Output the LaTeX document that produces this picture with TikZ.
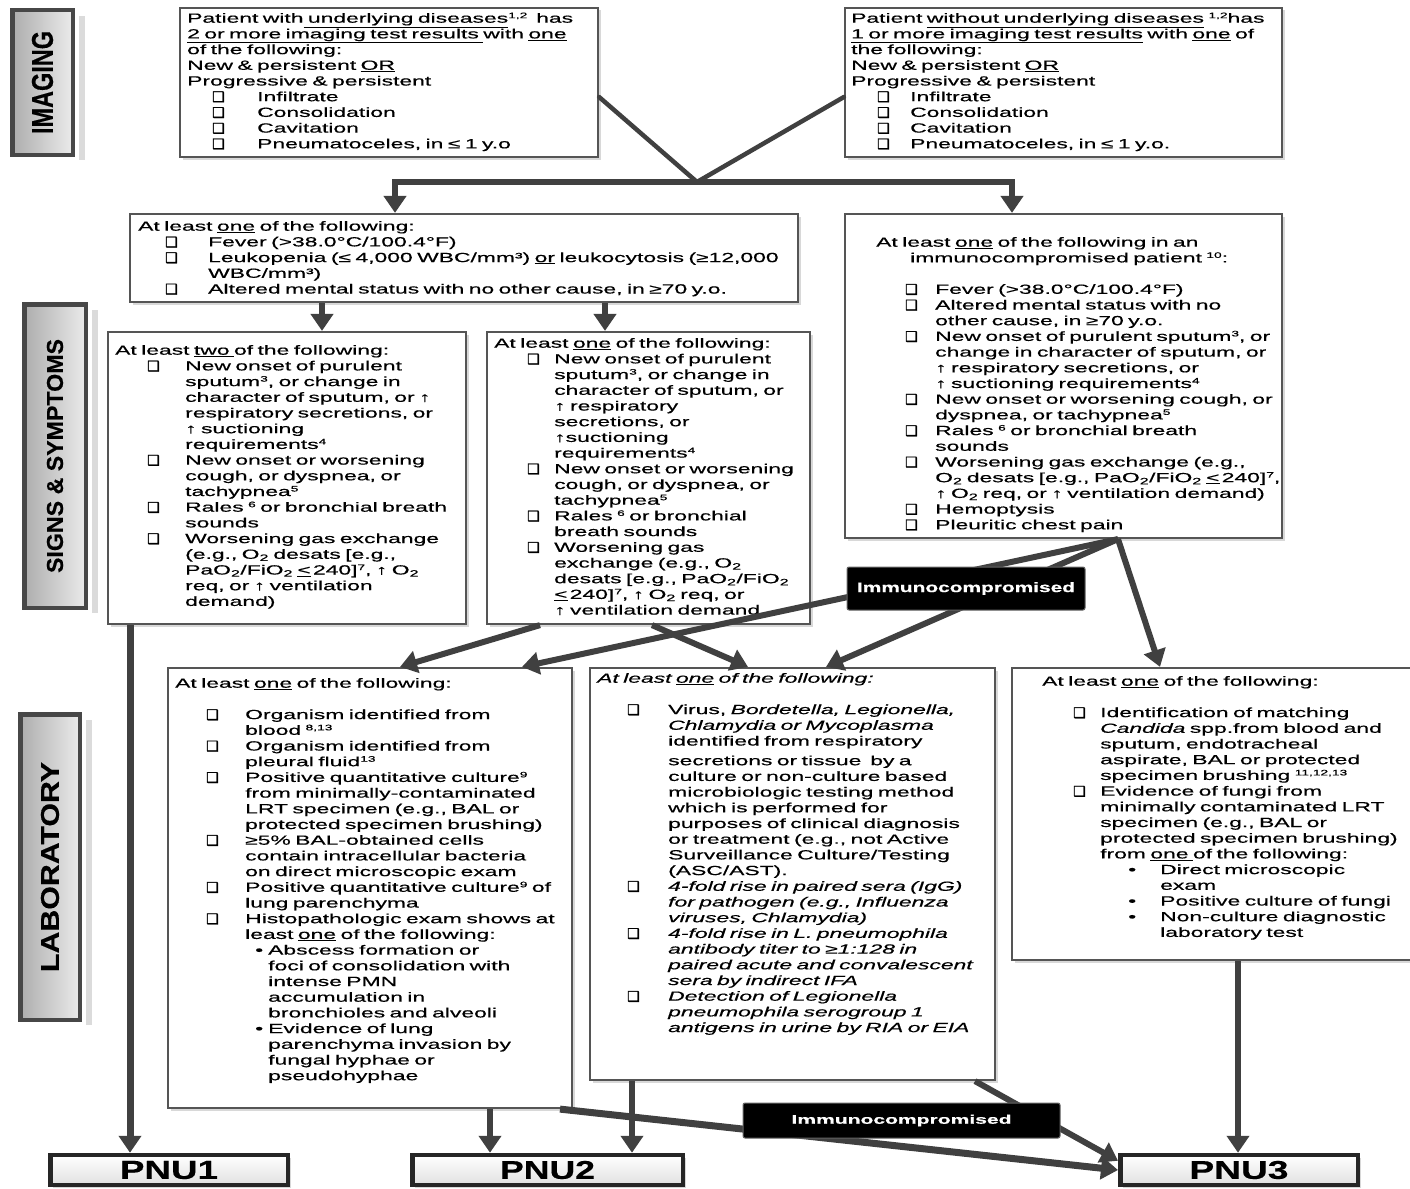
\documentclass[tikz,border=0pt]{standalone}
\usepackage{fontspec}
\setmainfont{Liberation Sans}[FakeStretch=1.72,FakeBold=0.5]
\newfontfamily\djv{DejaVu Sans}[FakeBold=1.6]
\usepackage{graphicx}
\usetikzlibrary{arrows.meta,shadows,calc}
\definecolor{lc}{HTML}{404040}
\definecolor{bc}{HTML}{555555}
\newcommand\cbx{\raisebox{-0.5pt}{\djv\fontsize{14}{14}\selectfont\symbol{"2751}}}
\newcommand\itm[3]{\hspace*{#1pt}\makebox[#2pt][l]{\cbx}#3}
\newcommand\btm[3]{\hspace*{#1pt}\makebox[#2pt][l]{•}#3}
\newcommand\ctn[2]{\hspace*{#1pt}#2}
\newcommand\sps[1]{\raisebox{4.5pt}{\fontsize{8}{8}\selectfont #1}}
\newcommand\two{\textsubscript{2}}
\begin{document}
\begin{tikzpicture}[x=1pt,y=-1pt,
 box/.style={draw=bc, line width=2.2pt, fill=white, inner sep=0pt, drop shadow={shadow xshift=2.5pt, shadow yshift=-2.5pt, fill=black!30}},
 sidebox/.style={draw=black!72, line width=4.5pt, left color=black!32, right color=black!8, inner sep=0pt},
 pnubox/.style={draw=black!85, line width=4.5pt, top color=white, bottom color=black!12, inner sep=0pt, drop shadow={shadow xshift=3pt, shadow yshift=-3pt, fill=black!30}},
 immlab/.style={fill=black, draw=black!60, line width=1pt, rounded corners=2pt, text=white, inner sep=0pt},
 txt/.style={anchor=north west, inner sep=0pt, text width=700pt, align=left, font=\fontsize{13.3}{15.7}\selectfont, execute at begin node={\rule{0pt}{11pt}}},
 arr/.style={draw=lc, line width=6pt, -{Triangle[length=17pt,width=22pt]}},
 vline/.style={draw=lc, line width=4.5pt, line cap=round},
]
\useasboundingbox (0,0) rectangle (1410,1188);
\clip (0,0) rectangle (1410,1188);

% side labels
\fill[black!14] (79,16) rectangle (85,160);
\fill[black!14] (92,310) rectangle (98,613);
\fill[black!14] (86,720) rectangle (92,1025);
\node[sidebox, minimum width=60.5pt, minimum height=144.5pt] (simg) at (42.5,82.5) {};
\node[rotate=90] (simgt) at (simg.center) {\resizebox{103pt}{21pt}{\bfseries IMAGING}};
\node[sidebox, minimum width=61.5pt, minimum height=303.5pt] (sss) at (55,456) {};
\node[rotate=90] (ssst) at (sss.center) {\resizebox{234pt}{16pt}{\bfseries SIGNS \& SYMPTOMS}};
\node[sidebox, minimum width=59.5pt, minimum height=305.5pt] (slab) at (50,867) {};
\node[rotate=90] (slabt) at (slab.center) {\resizebox{210pt}{18pt}{\bfseries LABORATORY}};

% boxes
\node[box, minimum width=418pt, minimum height=149pt] (img1) at (389,82.5) {};
\node[box, minimum width=437pt, minimum height=149pt] (img2) at (1063.5,82.5) {};
\node[box, minimum width=668pt, minimum height=88pt] (ss1) at (464,258) {};
\node[box, minimum width=437pt, minimum height=324pt] (ss2) at (1063.5,376) {};
\node[box, minimum width=358pt, minimum height=292pt] (ss3) at (287,478) {};
\node[box, minimum width=323pt, minimum height=292pt] (ss4) at (648.5,478) {};
\node[box, minimum width=404pt, minimum height=440pt] (lab1) at (370,888) {};
\node[box, minimum width=405pt, minimum height=412pt] (lab2) at (792.5,874) {};
\node[box, minimum width=406pt, minimum height=292pt] (lab3) at (1215,814) {};

% texts
\node[txt] (img1t) at (187,11.5) {Patient with\underline{ underlying diseases}\sps{1,2}\ \ has\\
\underline{2 or more imaging test results }with \underline{one}\\
of the following:\\
New \& persistent \underline{OR}\\
Progressive \& persistent\\
\itm{25}{45}{Infiltrate}\\
\itm{25}{45}{Consolidation}\\
\itm{25}{45}{Cavitation}\\
\itm{25}{45}{Pneumatoceles, in ≤ 1 y.o}};

\node[txt] (img2t) at (851,11.5) {Patient \underline{without underlying diseases} \sps{1,2}has\\
\underline{1 or more imaging test results} with \underline{one} of\\
the following:\\
New \& persistent \underline{OR}\\
Progressive \& persistent\\
\itm{26}{33}{Infiltrate}\\
\itm{26}{33}{Consolidation}\\
\itm{26}{33}{Cavitation}\\
\itm{26}{33}{Pneumatoceles, in ≤ 1 y.o.}};

\node[txt] (ss1t) at (138,219.5) {At least \underline{one} of the following:\\
\itm{27}{43}{Fever (>38.0°C/100.4°F)}\\
\itm{27}{43}{Leukopenia (≤ 4,000 WBC/mm³) \underline{or} leukocytosis (≥12,000}\\
\ctn{70}{WBC/mm³)}\\
\itm{27}{43}{Altered mental status with no other cause, in ≥70 y.o.}};

\node[txt] (ss2t) at (876,235.5) {At least \underline{one} of the following in an\\
\ctn{34}{immunocompromised patient \sps{10}:}\\[15.7pt]
\itm{29}{30}{Fever (>38.0°C/100.4°F)}\\
\itm{29}{30}{Altered mental status with no}\\
\ctn{59}{other cause, in ≥70 y.o.}\\
\itm{29}{30}{New onset of purulent sputum\sps{3}, or}\\
\ctn{59}{change in character of sputum, or}\\
\ctn{59}{↑ respiratory secretions, or}\\
\ctn{59}{↑ suctioning requirements\sps{4}}\\
\itm{29}{30}{New onset or worsening cough, or}\\
\ctn{59}{dyspnea, or tachypnea\sps{5}}\\
\itm{29}{30}{Rales \sps{6} or bronchial breath}\\
\ctn{59}{sounds}\\
\itm{29}{30}{Worsening gas exchange (e.g.,}\\
\ctn{59}{O\two{} desats [e.g., PaO\two/FiO\two{} \underline{<}\,240]\sps{7},}\\
\ctn{59}{↑ O\two{} req, or ↑ ventilation demand)}\\
\itm{29}{30}{Hemoptysis}\\
\itm{29}{30}{Pleuritic chest pain}};

\node[txt] (ss3t) at (115,343.5) {At least \underline{two }of the following:\\
\itm{32}{38}{New onset of purulent}\\
\ctn{70}{sputum\sps{3}, or change in}\\
\ctn{70}{character of sputum, or ↑}\\
\ctn{70}{respiratory secretions, or}\\
\ctn{70}{↑ suctioning}\\
\ctn{70}{requirements\sps{4}}\\
\itm{32}{38}{New onset or worsening}\\
\ctn{70}{cough, or dyspnea, or}\\
\ctn{70}{tachypnea\sps{5}}\\
\itm{32}{38}{Rales \sps{6} or bronchial breath}\\
\ctn{70}{sounds}\\
\itm{32}{38}{Worsening gas exchange}\\
\ctn{70}{(e.g., O\two{} desats [e.g.,}\\
\ctn{70}{PaO\two/FiO\two{} \underline{<}\,240]\sps{7}, ↑ O\two}\\
\ctn{70}{req, or ↑ ventilation}\\
\ctn{70}{demand)}};

\node[txt] (ss4t) at (494,336.5) {At least \underline{one} of the following:\\
\itm{33}{27}{New onset of purulent}\\
\ctn{60}{sputum\sps{3}, or change in}\\
\ctn{60}{character of sputum, or}\\
\ctn{60}{↑ respiratory}\\
\ctn{60}{secretions, or}\\
\ctn{60}{↑suctioning}\\
\ctn{60}{requirements\sps{4}}\\
\itm{33}{27}{New onset or worsening}\\
\ctn{60}{cough, or dyspnea, or}\\
\ctn{60}{tachypnea\sps{5}}\\
\itm{33}{27}{Rales \sps{6} or bronchial}\\
\ctn{60}{breath sounds}\\
\itm{33}{27}{Worsening gas}\\
\ctn{60}{exchange (e.g., O\two}\\
\ctn{60}{desats [e.g., PaO\two/FiO\two}\\
\ctn{60}{\underline{<}\,240]\sps{7}, ↑ O\two{} req, or}\\
\ctn{60}{↑ ventilation demand}};

\node[txt] (lab1t) at (175,676.5) {At least \underline{one} of the following:\\[15.7pt]
\itm{31}{39}{Organism identified from}\\
\ctn{70}{blood \sps{8,13}}\\
\itm{31}{39}{Organism identified from}\\
\ctn{70}{pleural fluid\sps{13}}\\
\itm{31}{39}{Positive quantitative culture\sps{9}}\\
\ctn{70}{from minimally-contaminated}\\
\ctn{70}{LRT specimen (e.g., BAL or}\\
\ctn{70}{protected specimen brushing)}\\
\itm{31}{39}{≥5\% BAL-obtained cells}\\
\ctn{70}{contain intracellular bacteria}\\
\ctn{70}{on direct microscopic exam}\\
\itm{31}{39}{Positive quantitative culture\sps{9} of}\\
\ctn{70}{lung parenchyma}\\
\itm{31}{39}{Histopathologic exam shows at}\\
\ctn{70}{least \underline{one} of the following:}\\
\btm{80}{13}{Abscess formation or}\\
\ctn{93}{foci of consolidation with}\\
\ctn{93}{intense PMN}\\
\ctn{93}{accumulation in}\\
\ctn{93}{bronchioles and alveoli}\\
\btm{80}{13}{Evidence of lung}\\
\ctn{93}{parenchyma invasion by}\\
\ctn{93}{fungal hyphae or}\\
\ctn{93}{pseudohyphae}};

\node[txt] (lab2t) at (597,671.5) {\textit{At least \underline{one} of the following:}\\[15.7pt]
\itm{30}{41}{Virus, \textit{Bordetella, Legionella,}}\\
\ctn{71}{\textit{Chlamydia or Mycoplasma}}\\
\ctn{71}{identified from respiratory}\\[4pt]
\ctn{71}{secretions or tissue\ \ by a}\\
\ctn{71}{culture or non-culture based}\\
\ctn{71}{microbiologic testing method}\\
\ctn{71}{which is performed for}\\
\ctn{71}{purposes of clinical diagnosis}\\
\ctn{71}{or treatment (e.g., not Active}\\
\ctn{71}{Surveillance Culture/Testing}\\
\ctn{71}{(ASC/AST).}\\
\itm{30}{41}{\textit{4-fold rise in paired sera (IgG)}}\\
\ctn{71}{\textit{for pathogen (e.g., Influenza}}\\
\ctn{71}{\textit{viruses, Chlamydia)}}\\
\itm{30}{41}{\textit{4-fold rise in L. pneumophila}}\\
\ctn{71}{\textit{antibody titer to ≥1:128 in}}\\
\ctn{71}{\textit{paired acute and convalescent}}\\
\ctn{71}{\textit{sera by indirect IFA}}\\
\itm{30}{41}{\textit{Detection of Legionella}}\\
\ctn{71}{\textit{pneumophila serogroup 1}}\\
\ctn{71}{\textit{antigens in urine by RIA or EIA}}};

\node[txt] (lab3t) at (1042,674.5) {At least \underline{one} of the following:\\[15.7pt]
\itm{31}{27}{Identification of matching}\\
\ctn{58}{\textit{Candida} spp.from blood and}\\
\ctn{58}{sputum, endotracheal}\\
\ctn{58}{aspirate, BAL or protected}\\
\ctn{58}{specimen brushing \sps{11,12,13}}\\
\itm{31}{27}{Evidence of fungi from}\\
\ctn{58}{minimally contaminated LRT}\\
\ctn{58}{specimen (e.g., BAL or}\\
\ctn{58}{protected specimen brushing)}\\
\ctn{58}{from \underline{one }of the following:}\\
\btm{86}{32}{Direct microscopic}\\
\ctn{118}{exam}\\
\btm{86}{32}{Positive culture of fungi}\\
\btm{86}{32}{Non-culture diagnostic}\\
\ctn{118}{laboratory test}};

% PNU boxes
\node[pnubox, minimum width=237.5pt, minimum height=30pt] (pnu1) at (169,1170) {\resizebox{98pt}{18pt}{\bfseries PNU1}};
\node[pnubox, minimum width=270.5pt, minimum height=30pt] (pnu2) at (547.5,1170) {\resizebox{95pt}{18pt}{\bfseries PNU2}};
\node[pnubox, minimum width=237.5pt, minimum height=30pt] (pnu3) at (1239,1170) {\resizebox{99pt}{18pt}{\bfseries PNU3}};

% connectors
\coordinate (vj) at (697,182);
\draw[vline] (img1.east |- 0,97) -- (vj) -- (img2.west |- 0,97);
\draw[arr] (vj) -| (ss1.north -| 395,0);
\draw[arr] (vj) -| (ss2.north -| 1012,0);
\draw[arr] (322,0 |- ss1.south) -- (322,0 |- ss3.north);
\draw[arr] (605,0 |- ss1.south) -- (605,0 |- ss4.north);
\draw[arr, line width=7pt] (130,0 |- ss3.south) -- (130,0 |- pnu1.north);
\draw[arr] (540,0 |- ss4.south) -- (400,0 |- lab1.north);
\draw[arr] (652,0 |- ss4.south) -- (748,0 |- lab2.north);
\draw[arr] (1118,0 |- ss2.south) -- (522,0 |- lab1.north);
\draw[arr] (1118,0 |- ss2.south) -- (826,0 |- lab2.north);
\draw[arr] (1118,0 |- ss2.south) -- (1160,0 |- lab3.north);
\draw[arr] (490,0 |- lab1.south) -- (490,0 |- pnu2.north);
\draw[arr] (632,0 |- lab2.south) -- (632,0 |- pnu2.north);
\draw[arr] (1238,0 |- lab3.south) -- (1238,0 |- pnu3.north);
\draw[arr, line width=7pt] (560,0 |- lab1.south) -- (pnu3.west);
\draw[arr] (975,0 |- lab2.south) -- ([yshift=-8pt]pnu3.north west);

% labels
\node[immlab, minimum width=238pt, minimum height=43pt] (imm1) at (966,588.5) {\resizebox{218pt}{10pt}{\bfseries Immunocompromised}};
\node[immlab, minimum width=317pt, minimum height=35pt] (imm2) at (901.5,1120.5) {\resizebox{220pt}{9pt}{\bfseries Immunocompromised}};
\end{tikzpicture}
\end{document}
